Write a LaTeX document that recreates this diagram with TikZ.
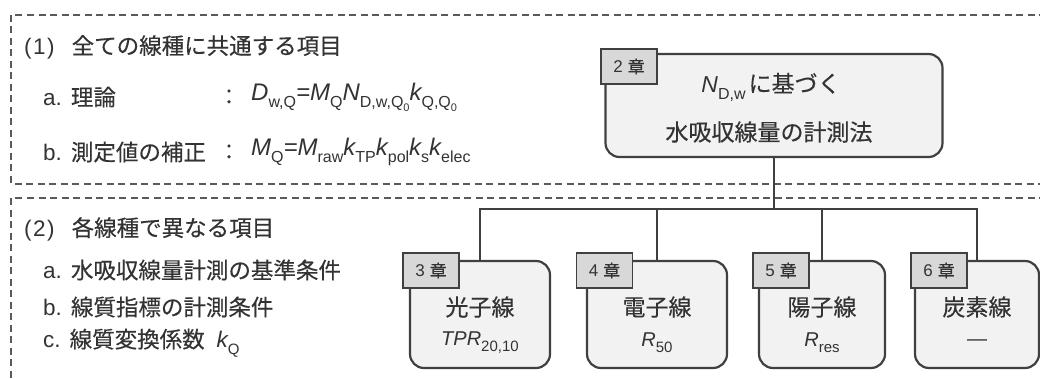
\documentclass[tikz,border=0pt]{standalone}
\usepackage{fontspec}
\setmainfont{Liberation Sans}
\newfontfamily\jp[FakeBold=0.35]{Noto Sans CJK JP}
\definecolor{ink}{HTML}{333333}
\definecolor{edge}{HTML}{404040}
\definecolor{boxfill}{HTML}{F2F2F2}
\definecolor{tagfill}{HTML}{D8D8D8}
\definecolor{dashc}{HTML}{5A5A5A}
\newcommand\sbs[2][16]{\raisebox{-0.3em}{\rmfamily\upshape\fontsize{#1}{#1}\selectfont #2}}
\newcommand\ssb[1]{\raisebox{-0.25em}{\fontsize{11}{11}\selectfont #1}}
\begin{document}
\begin{tikzpicture}[x=1pt,y=-1pt,
  every node/.style={text=ink, inner sep=0pt},
  frame/.style={draw=dashc, line width=1.1pt, dash pattern=on 7pt off 4.5pt},
  chbox/.style={draw=edge, line width=2.2pt, fill=boxfill, rounded corners=14pt, minimum height=107pt},
  tagbox/.style={draw=edge, line width=1.8pt, fill=tagfill, minimum width=56pt, minimum height=35pt, font=\fontsize{17}{17}\selectfont},
  link/.style={draw=edge, line width=2pt, line join=miter},
  lefttxt/.style={anchor=west, font=\fontsize{22.5}{22.5}\selectfont},
  colon/.style={font=\fontsize{22}{22}\selectfont\jp},
  formula/.style={anchor=west, font=\fontsize{24}{24}\selectfont\itshape},
  ttl/.style={font=\fontsize{23}{23}\selectfont\jp},
  subt/.style={font=\fontsize{20}{20}\selectfont}]

\useasboundingbox (0,0) rectangle (1040,379);

% dashed frames
\draw[frame] (1046,15) -- (11,15) -- (11,184) -- (1046,184);
\draw[frame] (1046,198) -- (11,198) -- (11,390);

% section (1)
\node[lefttxt] (h1) at (24,47) {(\kern1.5pt1\kern1.5pt)\hspace{17pt}{\jp 全ての線種に共通する項目}};
\node[lefttxt] (a1) at (43,97) {a.\hspace{9pt}{\jp 理論}};
\node[colon] (a1c) at (229,97) {：};
\node[formula] (a1f) at (251,97) {D\sbs{w,Q}=M\sbs{Q}N\sbs{D,w,Q\ssb{0}}k\sbs{Q,Q\ssb{0}}};
\node[lefttxt] (b1) at (43,152) {b.\hspace{9pt}{\jp 測定値の補正}};
\node[colon] (b1c) at (229,152) {：};
\node[formula] (b1f) at (251,152) {M\sbs{Q}=M\sbs{raw}k\sbs{TP}k\sbs{pol}k\sbs{s}k\sbs{elec}};

% section (2)
\node[lefttxt] (h2) at (24,229) {(\kern1.5pt2\kern1.5pt)\hspace{17pt}{\jp 各線種で異なる項目}};
\node[lefttxt] (a2) at (43,270) {a.\hspace{9pt}{\jp 水吸収線量計測の基準条件}};
\node[lefttxt] (b2) at (43,307) {b.\hspace{9pt}{\jp 線質指標の計測条件}};
\node[lefttxt] (c2) at (43,343) {c.\hspace{9pt}{\jp 線質変換係数}\hspace{12pt}{\itshape k}\sbs[15]{Q}};

% main box
\node[chbox, minimum width=337pt, minimum height=103pt] (ch2) at (774,105.5) {};
\node[ttl] (ch2a) at (771,87) {{\rmfamily\itshape N}\sbs{D,w}\hspace{3pt}に基づく};
\node[ttl] (ch2b) at (769,132) {水吸収線量の計測法};
\node[tagbox] (t2) at (629,66.5) {2\hspace{5pt}{\jp 章}};

% child boxes
\node[chbox, minimum width=140pt] (c3) at (480,314.5) {};
\node[chbox, minimum width=140pt] (c4) at (657,314.5) {};
\node[chbox, minimum width=126pt] (c5) at (822,314.5) {};
\node[chbox, minimum width=124pt] (c6) at (977,314.5) {};

% connectors
\coordinate (busy) at (0,209);
\coordinate (bus) at (ch2.south |- busy);
\draw[link] (ch2.south) -- (bus) -| (c3.north);
\draw[link] (bus) -| (c4.north);
\draw[link] (bus) -| (c5.north);
\draw[link] (bus) -| (c6.north);

% child texts
\node[ttl] (c3a) at (480,307) {光子線};
\node[subt] (c3b) at (480,343) {{\itshape TPR}\sbs[15]{20,10}};
\node[ttl] (c4a) at (657,307) {電子線};
\node[subt] (c4b) at (657,343) {{\itshape R}\sbs[15]{50}};
\node[ttl] (c5a) at (822,307) {陽子線};
\node[subt] (c5b) at (822,343) {{\itshape R}\sbs[15]{res}};
\node[ttl] (c6a) at (977,307) {炭素線};
\node[subt] (c6b) at (977,343) {—};

% tags
\node[tagbox] (t3) at (431,270.5) {3\hspace{5pt}{\jp 章}};
\node[tagbox] (t4) at (604.5,270.5) {4\hspace{5pt}{\jp 章}};
\node[tagbox] (t5) at (781,270.5) {5\hspace{5pt}{\jp 章}};
\node[tagbox] (t6) at (939,270.5) {6\hspace{5pt}{\jp 章}};
\end{tikzpicture}
\end{document}
